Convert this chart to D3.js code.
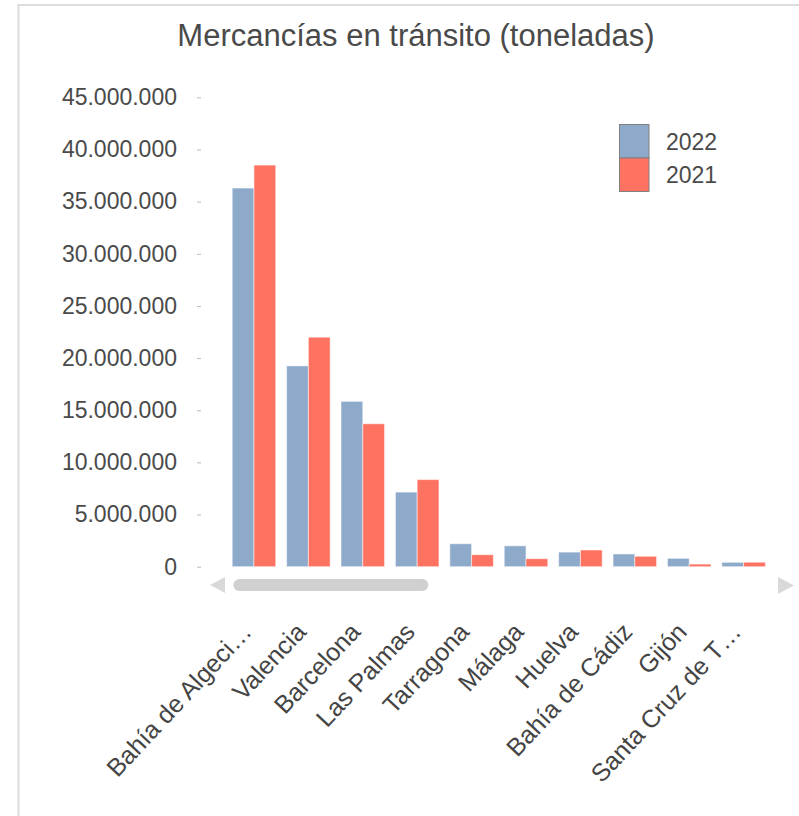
<!DOCTYPE html>
<html>
<head>
<meta charset="utf-8">
<script src="https://cdn.jsdelivr.net/npm/d3@7"></script>
<style>
  html, body { margin: 0; padding: 0; background: #fff; }
  svg { display: block; font-family: "Liberation Sans", Arial, sans-serif; }
</style>
</head>
<body>
<svg id="chart" width="799" height="816"></svg>
<script>
const title = "Mercancías en tránsito (toneladas)";
const categories = ["Bahía de Algeci…", "Valencia", "Barcelona", "Las Palmas", "Tarragona", "Málaga", "Huelva", "Bahía de Cádiz", "Gijón", "Santa Cruz de T…"];
const seriesNames = ["2022", "2021"];
const values2022 = [36300000, 19250000, 15850000, 7150000, 2200000, 2000000, 1400000, 1220000, 800000, 420000];
const values2021 = [38500000, 22000000, 13700000, 8350000, 1150000, 770000, 1600000, 1000000, 250000, 430000];
const yTicks = [0, 5000000, 10000000, 15000000, 20000000, 25000000, 30000000, 35000000, 40000000, 45000000];
const colors = ["#8eaacb", "#fe7262"];

const svg = d3.select("#chart");
const locale = d3.formatLocale({decimal: ",", thousands: ".", grouping: [3], currency: ["", "€"]});
const fmt = locale.format(",");

// frame
svg.append("line").attr("x1", 18.5).attr("x2", 18.5).attr("y1", 4).attr("y2", 816)
  .attr("stroke", "#dcdcdc").attr("stroke-width", 2);
svg.append("line").attr("x1", 17.5).attr("x2", 799).attr("y1", 5).attr("y2", 5)
  .attr("stroke", "#dcdcdc").attr("stroke-width", 2);

// title
svg.append("text").attr("x", 416).attr("y", 46).attr("text-anchor", "middle")
  .attr("font-size", 31).attr("fill", "#4a4a4a").text(title);

const y = d3.scaleLinear().domain([0, 45000000]).range([566.7, 97.3]);
const x = d3.scaleBand().domain(categories).range([205, 792.6]).paddingInner(0.2).paddingOuter(0.5);
const xs = d3.scaleBand().domain(seriesNames).range([0, x.bandwidth()]);

// y axis
const yAxis = d3.axisLeft(y).tickValues(yTicks).tickFormat(fmt).tickSize(4).tickPadding(20);
const ya = svg.append("g").attr("transform", "translate(201,0)").call(yAxis);
ya.select(".domain").remove();
ya.selectAll(".tick line").attr("stroke", "#bbb");
ya.selectAll(".tick text").attr("font-size", 23).attr("fill", "#4a4a4a")
  .attr("font-family", "Liberation Sans, Arial, sans-serif");

// bars
const data = categories.map((c, i) => ({c, v: [values2022[i], values2021[i]]}));
const groups = svg.append("g").selectAll("g").data(data).join("g")
  .attr("transform", d => `translate(${x(d.c)},0)`);
groups.selectAll("rect").data(d => d.v.map((v, k) => ({k, v}))).join("rect")
  .attr("x", d => xs(seriesNames[d.k]))
  .attr("width", xs.bandwidth())
  .attr("y", d => y(d.v))
  .attr("height", d => y(0) - y(d.v))
  .attr("fill", d => colors[d.k])
  .attr("stroke", "#fff").attr("stroke-opacity", 0.5).attr("stroke-width", 1);

// x labels
svg.append("g").selectAll("text").data(categories).join("text")
  .attr("transform", d => `translate(${x(d) + x.bandwidth() / 2 - 1},633) rotate(-47)`)
  .attr("text-anchor", "end").attr("font-size", 25).attr("fill", "#444").text(d => d);

// scrollbar
svg.append("path").attr("d", "M225,577 L225,593 L210,585 Z").attr("fill", "#d9d9d9");
svg.append("path").attr("d", "M778,577 L778,594 L794,585.5 Z").attr("fill", "#d9d9d9");
svg.append("rect").attr("x", 233.3).attr("y", 579).attr("width", 195).attr("height", 12)
  .attr("rx", 6).attr("fill", "#d0d0d0");

// legend
const lg = svg.append("g");
seriesNames.forEach((s, i) => {
  lg.append("rect").attr("x", 619.5).attr("y", 124.5 + i * 33.5).attr("width", 29.5).attr("height", 33.5)
    .attr("fill", colors[i]).attr("stroke", "#808080").attr("stroke-width", 1);
  lg.append("text").attr("x", 666).attr("y", 141.5 + i * 33.5).attr("dy", "0.35em")
    .attr("font-size", 23).attr("fill", "#4a4a4a").text(s);
});
</script>
</body>
</html>
